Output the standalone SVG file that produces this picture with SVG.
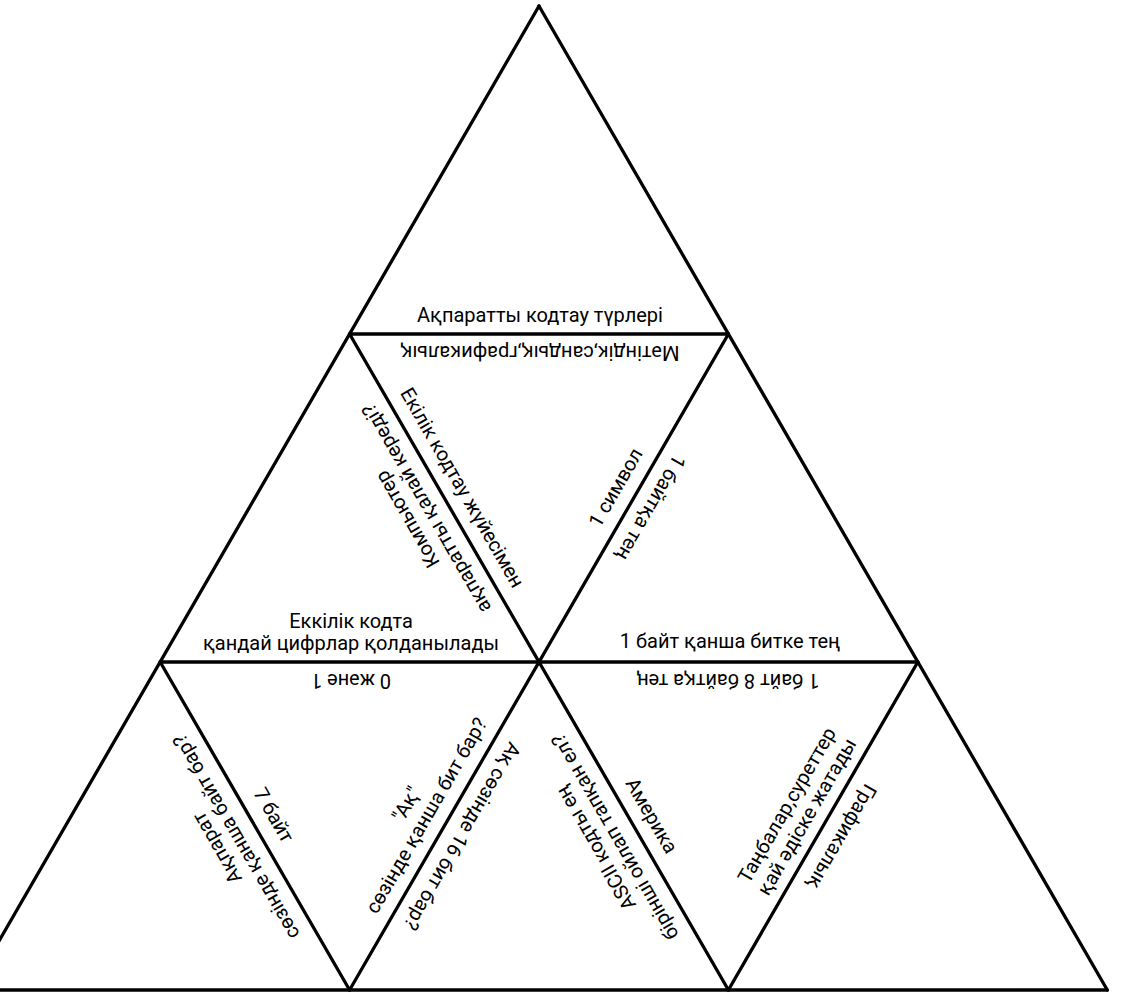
<svg xmlns="http://www.w3.org/2000/svg" width="1145" height="995" viewBox="0 0 1145 995">
<style>
.ln{stroke:#000;stroke-width:3.3;fill:none;stroke-linecap:round}
text{font-family:Roboto,"Noto Sans","DejaVu Sans",sans-serif;font-size:20px;fill:#000;text-anchor:middle}
</style>
<rect width="1145" height="995" fill="#fff"/>
<g id="connectors">
<line class="ln" x1="539" y1="6" x2="-29.3" y2="990"/>
<line class="ln" x1="539" y1="6" x2="1107.3" y2="990"/>
<line class="ln" x1="349.6" y1="334" x2="728.4" y2="334"/>
<line class="ln" x1="160.2" y1="662" x2="917.8" y2="662"/>
<line class="ln" x1="-29.3" y1="990" x2="1107.3" y2="990"/>
<line class="ln" x1="349.6" y1="334" x2="728.4" y2="990"/>
<line class="ln" x1="728.4" y1="334" x2="349.6" y2="990"/>
<line class="ln" x1="160.2" y1="662" x2="349.6" y2="990"/>
<line class="ln" x1="917.8" y1="662" x2="728.4" y2="990"/>
</g>
<g id="tri-top">
<text x="540" y="322">Ақпаратты кодтау түрлері</text>
</g>
<g id="tri-mid-center">
<text transform="translate(540,346) rotate(180)">Мәтіндік,сандық,графикалық</text>
<text transform="translate(444.3,498) rotate(60)" y="-14">Екілік кодтау жүйесімен</text>
<text transform="translate(633.7,498) rotate(-60)" y="-14">1 символ</text>
</g>
<g id="tri-mid-left">
<g transform="translate(444.3,498) rotate(-120)">
<text y="-36">Компьютер</text>
<text y="-14">ақпаратты қалай кереді?</text>
</g>
<text x="351" y="628">Еккілік кодта</text>
<text x="351" y="650">қандай цифрлар қолданылады</text>
</g>
<g id="tri-mid-right">
<text transform="translate(633.7,498) rotate(120)" y="-13">1 байтқа тең</text>
<text x="730" y="648">1 байт қанша битке тең</text>
</g>
<g id="tri-bot-inv-left">
<text transform="translate(351,674) rotate(180)">0 және 1</text>
<text transform="translate(254.9,826) rotate(60)" y="-15">7 байт</text>
<g transform="translate(444.3,826) rotate(-60)">
<text y="-37">"Ақ"</text>
<text y="-14">сөзінде қанша бит бар?</text>
</g>
</g>
<g id="tri-bot-left">
<g transform="translate(254.9,826) rotate(-120)">
<text y="-37">Ақпарат</text>
<text y="-15">сөзінде қанша байт бар?</text>
</g>
</g>
<g id="tri-bot-center">
<text transform="translate(444.3,826) rotate(120)" y="-14">Ақ сөзінде 16 бит бар?</text>
<g transform="translate(633.7,826) rotate(-120)">
<text y="-37">ASCII кодты ең</text>
<text y="-15">бірінші ойлап тапқан ел?</text>
</g>
</g>
<g id="tri-bot-inv-right">
<text transform="translate(728,674) rotate(180)">1 байт 8 байтқа тең</text>
<text transform="translate(633.7,826) rotate(60)" y="-14">Америка</text>
<g transform="translate(823.1,826) rotate(-60)">
<text y="-35">Таңбалар,суреттер</text>
<text y="-12">қай әдіске жатады</text>
</g>
</g>
<g id="tri-bot-right">
<text transform="translate(823.1,826) rotate(120)" y="-15">Графикалық</text>
</g>
</svg>
